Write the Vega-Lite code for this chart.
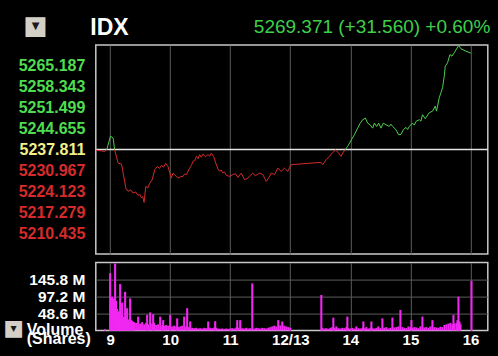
{
  "$schema": "https://vega.github.io/schema/vega-lite/v6.json",
  "background": "#000000",
  "padding": {"left": 1.8, "top": 11, "right": 8, "bottom": 11.5},
  "spacing": 6.6,
  "config": {
    "font": "Liberation Sans",
    "view": {"stroke": "#c8c8c8", "strokeWidth": 1.5},
    "axis": {"gridColor": "#5c5c5c", "gridWidth": 1, "domain": false, "ticks": false, "labelOverlap": false}
  },
  "datasets": {
    "price": [
      {"m": -14.3, "v": 5237.61, "seg": "a", "dir": "down"},
      {"m": -5.3, "v": 5237.19, "seg": "a", "dir": "down"},
      {"m": -3.3, "v": 5237.81, "seg": "a", "dir": "down"},
      {"m": -3.3, "v": 5237.81, "seg": "b", "dir": "up"},
      {"m": 0.4, "v": 5242.19, "seg": "b", "dir": "up"},
      {"m": 3.0, "v": 5241.54, "seg": "b", "dir": "up"},
      {"m": 4.5, "v": 5237.81, "seg": "b", "dir": "up"},
      {"m": 4.5, "v": 5237.81, "seg": "c", "dir": "down"},
      {"m": 8.0, "v": 5233.36, "seg": "c", "dir": "down"},
      {"m": 11.4, "v": 5233.03, "seg": "c", "dir": "down"},
      {"m": 15.7, "v": 5225.18, "seg": "c", "dir": "down"},
      {"m": 17.9, "v": 5224.10, "seg": "c", "dir": "down"},
      {"m": 20.5, "v": 5224.60, "seg": "c", "dir": "down"},
      {"m": 22.9, "v": 5223.55, "seg": "c", "dir": "down"},
      {"m": 25.4, "v": 5223.90, "seg": "c", "dir": "down"},
      {"m": 27.9, "v": 5222.79, "seg": "c", "dir": "down"},
      {"m": 29.6, "v": 5223.20, "seg": "c", "dir": "down"},
      {"m": 31.3, "v": 5221.91, "seg": "c", "dir": "down"},
      {"m": 32.6, "v": 5222.40, "seg": "c", "dir": "down"},
      {"m": 33.9, "v": 5220.50, "seg": "c", "dir": "down"},
      {"m": 35.6, "v": 5225.74, "seg": "c", "dir": "down"},
      {"m": 37.6, "v": 5225.20, "seg": "c", "dir": "down"},
      {"m": 39.6, "v": 5226.82, "seg": "c", "dir": "down"},
      {"m": 42.0, "v": 5227.90, "seg": "c", "dir": "down"},
      {"m": 44.6, "v": 5231.20, "seg": "c", "dir": "down"},
      {"m": 47.3, "v": 5232.28, "seg": "c", "dir": "down"},
      {"m": 49.3, "v": 5231.60, "seg": "c", "dir": "down"},
      {"m": 51.3, "v": 5232.61, "seg": "c", "dir": "down"},
      {"m": 53.4, "v": 5232.00, "seg": "c", "dir": "down"},
      {"m": 55.5, "v": 5233.26, "seg": "c", "dir": "down"},
      {"m": 57.8, "v": 5232.28, "seg": "c", "dir": "down"},
      {"m": 59.5, "v": 5230.30, "seg": "c", "dir": "down"},
      {"m": 61.2, "v": 5228.45, "seg": "c", "dir": "down"},
      {"m": 62.8, "v": 5230.10, "seg": "c", "dir": "down"},
      {"m": 64.5, "v": 5229.57, "seg": "c", "dir": "down"},
      {"m": 66.1, "v": 5229.00, "seg": "c", "dir": "down"},
      {"m": 67.8, "v": 5228.45, "seg": "c", "dir": "down"},
      {"m": 70.3, "v": 5228.90, "seg": "c", "dir": "down"},
      {"m": 72.8, "v": 5229.01, "seg": "c", "dir": "down"},
      {"m": 74.5, "v": 5229.80, "seg": "c", "dir": "down"},
      {"m": 76.2, "v": 5229.57, "seg": "c", "dir": "down"},
      {"m": 79.5, "v": 5231.72, "seg": "c", "dir": "down"},
      {"m": 81.2, "v": 5232.60, "seg": "c", "dir": "down"},
      {"m": 82.8, "v": 5233.92, "seg": "c", "dir": "down"},
      {"m": 84.5, "v": 5234.20, "seg": "c", "dir": "down"},
      {"m": 86.2, "v": 5235.55, "seg": "c", "dir": "down"},
      {"m": 87.8, "v": 5234.80, "seg": "c", "dir": "down"},
      {"m": 89.4, "v": 5236.11, "seg": "c", "dir": "down"},
      {"m": 91.0, "v": 5235.30, "seg": "c", "dir": "down"},
      {"m": 92.7, "v": 5236.31, "seg": "c", "dir": "down"},
      {"m": 95.2, "v": 5235.40, "seg": "c", "dir": "down"},
      {"m": 97.7, "v": 5236.11, "seg": "c", "dir": "down"},
      {"m": 99.4, "v": 5235.60, "seg": "c", "dir": "down"},
      {"m": 101.1, "v": 5236.63, "seg": "c", "dir": "down"},
      {"m": 103.4, "v": 5235.55, "seg": "c", "dir": "down"},
      {"m": 106.1, "v": 5232.84, "seg": "c", "dir": "down"},
      {"m": 107.8, "v": 5231.40, "seg": "c", "dir": "down"},
      {"m": 109.4, "v": 5230.65, "seg": "c", "dir": "down"},
      {"m": 111.0, "v": 5231.10, "seg": "c", "dir": "down"},
      {"m": 112.7, "v": 5230.09, "seg": "c", "dir": "down"},
      {"m": 114.4, "v": 5230.40, "seg": "c", "dir": "down"},
      {"m": 116.1, "v": 5229.34, "seg": "c", "dir": "down"},
      {"m": 119.4, "v": 5229.01, "seg": "c", "dir": "down"},
      {"m": 122.6, "v": 5229.57, "seg": "c", "dir": "down"},
      {"m": 125.1, "v": 5229.90, "seg": "c", "dir": "down"},
      {"m": 127.6, "v": 5228.68, "seg": "c", "dir": "down"},
      {"m": 131.0, "v": 5230.09, "seg": "c", "dir": "down"},
      {"m": 134.3, "v": 5227.93, "seg": "c", "dir": "down"},
      {"m": 137.6, "v": 5228.45, "seg": "c", "dir": "down"},
      {"m": 140.0, "v": 5229.30, "seg": "c", "dir": "down"},
      {"m": 142.6, "v": 5230.09, "seg": "c", "dir": "down"},
      {"m": 145.1, "v": 5229.20, "seg": "c", "dir": "down"},
      {"m": 147.6, "v": 5229.76, "seg": "c", "dir": "down"},
      {"m": 149.6, "v": 5230.09, "seg": "c", "dir": "down"},
      {"m": 152.6, "v": 5229.57, "seg": "c", "dir": "down"},
      {"m": 156.0, "v": 5227.37, "seg": "c", "dir": "down"},
      {"m": 158.5, "v": 5228.60, "seg": "c", "dir": "down"},
      {"m": 161.0, "v": 5230.09, "seg": "c", "dir": "down"},
      {"m": 164.3, "v": 5229.57, "seg": "c", "dir": "down"},
      {"m": 167.5, "v": 5231.72, "seg": "c", "dir": "down"},
      {"m": 170.9, "v": 5230.65, "seg": "c", "dir": "down"},
      {"m": 174.2, "v": 5231.72, "seg": "c", "dir": "down"},
      {"m": 177.5, "v": 5230.65, "seg": "c", "dir": "down"},
      {"m": 180.9, "v": 5232.84, "seg": "c", "dir": "down"},
      {"m": 210.8, "v": 5233.59, "seg": "c", "dir": "down"},
      {"m": 212.4, "v": 5232.84, "seg": "c", "dir": "down"},
      {"m": 215.8, "v": 5234.47, "seg": "c", "dir": "down"},
      {"m": 219.1, "v": 5235.55, "seg": "c", "dir": "down"},
      {"m": 221.8, "v": 5236.63, "seg": "c", "dir": "down"},
      {"m": 225.1, "v": 5237.68, "seg": "c", "dir": "down"},
      {"m": 228.4, "v": 5236.63, "seg": "c", "dir": "down"},
      {"m": 230.7, "v": 5235.55, "seg": "c", "dir": "down"},
      {"m": 233.0, "v": 5236.96, "seg": "c", "dir": "down"},
      {"m": 235.0, "v": 5237.81, "seg": "c", "dir": "down"},
      {"m": 235.0, "v": 5237.81, "seg": "d", "dir": "up"},
      {"m": 237.3, "v": 5238.82, "seg": "d", "dir": "up"},
      {"m": 240.7, "v": 5240.79, "seg": "d", "dir": "up"},
      {"m": 244.0, "v": 5242.65, "seg": "d", "dir": "up"},
      {"m": 247.3, "v": 5244.81, "seg": "d", "dir": "up"},
      {"m": 249.7, "v": 5246.35, "seg": "d", "dir": "up"},
      {"m": 252.3, "v": 5247.56, "seg": "d", "dir": "up"},
      {"m": 255.0, "v": 5248.08, "seg": "d", "dir": "up"},
      {"m": 257.3, "v": 5246.45, "seg": "d", "dir": "up"},
      {"m": 259.7, "v": 5245.92, "seg": "d", "dir": "up"},
      {"m": 262.3, "v": 5244.81, "seg": "d", "dir": "up"},
      {"m": 264.0, "v": 5246.45, "seg": "d", "dir": "up"},
      {"m": 266.3, "v": 5245.37, "seg": "d", "dir": "up"},
      {"m": 268.3, "v": 5246.45, "seg": "d", "dir": "up"},
      {"m": 270.6, "v": 5244.81, "seg": "d", "dir": "up"},
      {"m": 272.9, "v": 5246.45, "seg": "d", "dir": "up"},
      {"m": 275.6, "v": 5245.92, "seg": "d", "dir": "up"},
      {"m": 278.9, "v": 5245.37, "seg": "d", "dir": "up"},
      {"m": 280.5, "v": 5246.10, "seg": "d", "dir": "up"},
      {"m": 282.2, "v": 5245.37, "seg": "d", "dir": "up"},
      {"m": 285.6, "v": 5244.29, "seg": "d", "dir": "up"},
      {"m": 288.2, "v": 5242.65, "seg": "d", "dir": "up"},
      {"m": 290.6, "v": 5242.75, "seg": "d", "dir": "up"},
      {"m": 292.9, "v": 5244.29, "seg": "d", "dir": "up"},
      {"m": 295.6, "v": 5245.04, "seg": "d", "dir": "up"},
      {"m": 297.2, "v": 5244.40, "seg": "d", "dir": "up"},
      {"m": 298.9, "v": 5245.37, "seg": "d", "dir": "up"},
      {"m": 302.2, "v": 5246.45, "seg": "d", "dir": "up"},
      {"m": 303.9, "v": 5245.80, "seg": "d", "dir": "up"},
      {"m": 305.5, "v": 5247.00, "seg": "d", "dir": "up"},
      {"m": 308.8, "v": 5247.56, "seg": "d", "dir": "up"},
      {"m": 310.5, "v": 5247.10, "seg": "d", "dir": "up"},
      {"m": 312.1, "v": 5249.19, "seg": "d", "dir": "up"},
      {"m": 314.8, "v": 5247.89, "seg": "d", "dir": "up"},
      {"m": 318.8, "v": 5249.85, "seg": "d", "dir": "up"},
      {"m": 322.1, "v": 5250.37, "seg": "d", "dir": "up"},
      {"m": 324.8, "v": 5252.01, "seg": "d", "dir": "up"},
      {"m": 326.1, "v": 5250.37, "seg": "d", "dir": "up"},
      {"m": 328.8, "v": 5254.76, "seg": "d", "dir": "up"},
      {"m": 330.5, "v": 5256.39, "seg": "d", "dir": "up"},
      {"m": 332.1, "v": 5258.03, "seg": "d", "dir": "up"},
      {"m": 333.8, "v": 5261.82, "seg": "d", "dir": "up"},
      {"m": 334.8, "v": 5265.09, "seg": "d", "dir": "up"},
      {"m": 337.1, "v": 5266.21, "seg": "d", "dir": "up"},
      {"m": 339.5, "v": 5268.92, "seg": "d", "dir": "up"},
      {"m": 341.5, "v": 5268.37, "seg": "d", "dir": "up"},
      {"m": 343.8, "v": 5269.48, "seg": "d", "dir": "up"},
      {"m": 348.1, "v": 5271.87, "seg": "d", "dir": "up"},
      {"m": 350.5, "v": 5270.79, "seg": "d", "dir": "up"},
      {"m": 355.5, "v": 5270.00, "seg": "d", "dir": "up"},
      {"m": 360.4, "v": 5269.37, "seg": "d", "dir": "up"}
    ],
    "volume": [
      {"m": -5, "vol": 4}, {"m": 0, "vol": 164}, {"m": 1, "vol": 95}, {"m": 2, "vol": 97}, {"m": 3, "vol": 90},
      {"m": 4, "vol": 92}, {"m": 5, "vol": 192}, {"m": 6, "vol": 85}, {"m": 7, "vol": 62}, {"m": 8, "vol": 55},
      {"m": 9, "vol": 50}, {"m": 10, "vol": 133}, {"m": 11, "vol": 45}, {"m": 12, "vol": 80}, {"m": 13, "vol": 40},
      {"m": 14, "vol": 38}, {"m": 15, "vol": 111}, {"m": 16, "vol": 35}, {"m": 17, "vol": 64}, {"m": 18, "vol": 32},
      {"m": 19, "vol": 28}, {"m": 20, "vol": 92}, {"m": 21, "vol": 30}, {"m": 22, "vol": 28}, {"m": 23, "vol": 25},
      {"m": 24, "vol": 24}, {"m": 26, "vol": 22}, {"m": 28, "vol": 40}, {"m": 30, "vol": 20}, {"m": 32, "vol": 24},
      {"m": 34, "vol": 18}, {"m": 36, "vol": 22}, {"m": 37, "vol": 45}, {"m": 38, "vol": 18}, {"m": 40, "vol": 52},
      {"m": 42, "vol": 20}, {"m": 43, "vol": 47}, {"m": 44, "vol": 22}, {"m": 46, "vol": 16}, {"m": 48, "vol": 18},
      {"m": 50, "vol": 40}, {"m": 52, "vol": 15}, {"m": 53, "vol": 30}, {"m": 54, "vol": 14}, {"m": 56, "vol": 16},
      {"m": 58, "vol": 14}, {"m": 60, "vol": 45}, {"m": 62, "vol": 12}, {"m": 64, "vol": 14}, {"m": 66, "vol": 12},
      {"m": 67, "vol": 35}, {"m": 68, "vol": 10}, {"m": 70, "vol": 12}, {"m": 72, "vol": 14}, {"m": 74, "vol": 40},
      {"m": 76, "vol": 12}, {"m": 77, "vol": 64}, {"m": 78, "vol": 10}, {"m": 80, "vol": 26}, {"m": 82, "vol": 8},
      {"m": 84, "vol": 7}, {"m": 86, "vol": 8}, {"m": 88, "vol": 6}, {"m": 90, "vol": 7}, {"m": 92, "vol": 6},
      {"m": 94, "vol": 8}, {"m": 96, "vol": 7}, {"m": 98, "vol": 26}, {"m": 100, "vol": 8}, {"m": 102, "vol": 7},
      {"m": 104, "vol": 9}, {"m": 105, "vol": 27}, {"m": 106, "vol": 8}, {"m": 108, "vol": 6}, {"m": 110, "vol": 5},
      {"m": 112, "vol": 6}, {"m": 114, "vol": 5}, {"m": 116, "vol": 6}, {"m": 118, "vol": 5}, {"m": 120, "vol": 6},
      {"m": 122, "vol": 7}, {"m": 124, "vol": 6}, {"m": 126, "vol": 9}, {"m": 127, "vol": 30}, {"m": 128, "vol": 8},
      {"m": 130, "vol": 30}, {"m": 132, "vol": 7}, {"m": 134, "vol": 6}, {"m": 136, "vol": 8}, {"m": 138, "vol": 6},
      {"m": 140, "vol": 7}, {"m": 142, "vol": 135}, {"m": 144, "vol": 6}, {"m": 146, "vol": 8}, {"m": 148, "vol": 7},
      {"m": 150, "vol": 6}, {"m": 152, "vol": 8}, {"m": 154, "vol": 7}, {"m": 156, "vol": 6}, {"m": 158, "vol": 8},
      {"m": 160, "vol": 10}, {"m": 162, "vol": 12}, {"m": 164, "vol": 14}, {"m": 166, "vol": 12}, {"m": 168, "vol": 30},
      {"m": 170, "vol": 15}, {"m": 172, "vol": 26}, {"m": 174, "vol": 14}, {"m": 176, "vol": 12}, {"m": 178, "vol": 10},
      {"m": 180, "vol": 8},
      {"m": 211, "vol": 102}, {"m": 212, "vol": 8}, {"m": 214, "vol": 6}, {"m": 216, "vol": 7}, {"m": 218, "vol": 5},
      {"m": 220, "vol": 8}, {"m": 222, "vol": 10}, {"m": 223, "vol": 37}, {"m": 224, "vol": 8}, {"m": 226, "vol": 12},
      {"m": 228, "vol": 7}, {"m": 230, "vol": 6}, {"m": 232, "vol": 8}, {"m": 234, "vol": 7}, {"m": 236, "vol": 10},
      {"m": 237, "vol": 40}, {"m": 238, "vol": 7}, {"m": 240, "vol": 6}, {"m": 242, "vol": 8}, {"m": 244, "vol": 6},
      {"m": 246, "vol": 12}, {"m": 248, "vol": 7}, {"m": 250, "vol": 6}, {"m": 252, "vol": 8}, {"m": 253, "vol": 26},
      {"m": 254, "vol": 7}, {"m": 256, "vol": 10}, {"m": 258, "vol": 6}, {"m": 260, "vol": 8}, {"m": 261, "vol": 26},
      {"m": 262, "vol": 7}, {"m": 264, "vol": 6}, {"m": 266, "vol": 8}, {"m": 268, "vol": 12}, {"m": 270, "vol": 7},
      {"m": 272, "vol": 35}, {"m": 274, "vol": 8}, {"m": 276, "vol": 10}, {"m": 278, "vol": 6}, {"m": 280, "vol": 8},
      {"m": 282, "vol": 37}, {"m": 284, "vol": 9}, {"m": 286, "vol": 10}, {"m": 288, "vol": 12}, {"m": 290, "vol": 59},
      {"m": 292, "vol": 10}, {"m": 294, "vol": 8}, {"m": 296, "vol": 7}, {"m": 298, "vol": 12}, {"m": 300, "vol": 9},
      {"m": 301, "vol": 30}, {"m": 302, "vol": 8}, {"m": 304, "vol": 10}, {"m": 306, "vol": 9}, {"m": 308, "vol": 7},
      {"m": 310, "vol": 12}, {"m": 312, "vol": 40}, {"m": 314, "vol": 9}, {"m": 316, "vol": 10}, {"m": 318, "vol": 8},
      {"m": 320, "vol": 12}, {"m": 322, "vol": 30}, {"m": 324, "vol": 10}, {"m": 326, "vol": 9}, {"m": 328, "vol": 8},
      {"m": 330, "vol": 11}, {"m": 332, "vol": 10}, {"m": 334, "vol": 16}, {"m": 336, "vol": 18}, {"m": 338, "vol": 20},
      {"m": 340, "vol": 22}, {"m": 342, "vol": 18}, {"m": 343, "vol": 45}, {"m": 344, "vol": 20}, {"m": 346, "vol": 22},
      {"m": 347, "vol": 30}, {"m": 348, "vol": 97}, {"m": 349, "vol": 26}, {"m": 350, "vol": 18}, {"m": 361, "vol": 142}
    ]
  },
  "vconcat": [
    {
      "width": 392,
      "height": 209,
      "title": {
        "text": "■", "subtitle": ["", "▼"], "orient": "none", "anchor": "start", "align": "center",
        "baseline": "top", "dx": -60.2, "dy": -32.5, "font": "DejaVu Sans", "fontSize": 26, "color": "#d4d0c8",
        "subtitleFont": "DejaVu Sans", "subtitleFontSize": 10, "subtitleColor": "#1a1a1a", "subtitlePadding": -8,
        "subtitleLineHeight": 8.5
      },
      "layer": [
        {
          "data": {"values": [{}]},
          "mark": {"type": "rule", "color": "#e4e4e4", "strokeWidth": 1.5},
          "encoding": {"y": {"datum": 5237.811}}
        },
        {
          "data": {"name": "price"},
          "mark": {"type": "line", "strokeWidth": 1},
          "encoding": {
            "x": {
              "field": "m", "type": "quantitative",
              "scale": {"domain": [-14.3, 377.3], "nice": false, "zero": false},
              "axis": {
                "orient": "top", "values": [0, 60, 120, 180, 240, 300, 360], "labels": false, "tickCount": 20,
                "title": "5269.371 (+31.560) +0.60%", "titleColor": "#3fcf4a", "titleFontSize": 19,
                "titleFontWeight": "normal", "titleAlign": "right", "titleX": 394, "titleY": -12.8,
                "titleBaseline": "alphabetic"
              }
            },
            "y": {
              "field": "v", "type": "quantitative",
              "scale": {"domain": [5203.591, 5272.031], "nice": false, "zero": false},
              "axis": {
                "values": [5210.435, 5217.279, 5224.123, 5230.967, 5237.811, 5244.655, 5251.499, 5258.343, 5265.187],
                "tickCount": 20,
                "format": ".3f", "labelOverlap": false, "labelFlush": false,
                "labelColor": {"expr": "datum.value > 5238 ? '#4fdc4f' : datum.value > 5237 ? '#f2f08a' : '#d62b2b'"},
                "labelFontSize": 16, "labelFontWeight": "bold", "labelPadding": 11,
                "title": "IDX", "titleAngle": 0, "titleX": -6, "titleY": -10.8, "titleAlign": "left",
                "titleBaseline": "alphabetic", "titleFontSize": 23, "titleFontWeight": "bold", "titleColor": "#ffffff"
              }
            },
            "color": {
              "field": "dir", "type": "nominal",
              "scale": {"domain": ["up", "down"], "range": ["#4ccf4c", "#d42a2a"]},
              "legend": null
            },
            "detail": {"field": "seg"}
          }
        }
      ]
    },
    {
      "width": 392,
      "height": 68,
      "title": {
        "text": "■", "subtitle": ["", "▼"], "orient": "none", "anchor": "start", "align": "center",
        "baseline": "top", "dx": -82.2, "dy": 55.9, "font": "DejaVu Sans", "fontSize": 22, "color": "#d4d0c8",
        "subtitleFont": "DejaVu Sans", "subtitleFontSize": 8, "subtitleColor": "#1a1a1a", "subtitlePadding": -6.5,
        "subtitleLineHeight": 7
      },
      "data": {"name": "volume"},
      "mark": {"type": "rule", "color": "#f028f0", "strokeWidth": 2.1},
      "encoding": {
        "x": {
          "field": "m", "type": "quantitative",
          "scale": {"domain": [-14.3, 377.3], "nice": false, "zero": false},
          "axis": {
            "values": [0, 60, 120, 180, 240, 300, 360], "labelOverlap": false, "labelFlush": false, "tickCount": 20,
            "labelExpr": "datum.value == 180 ? '12/13' : datum.value < 180 ? '' + (9 + datum.value / 60) : '' + (10 + datum.value / 60)",
            "labelColor": "#ffffff", "labelFontSize": 15, "labelFontWeight": "bold", "labelPadding": 2,
            "title": null
          }
        },
        "y": {
          "field": "vol", "type": "quantitative",
          "scale": {"domain": [0, 194.4], "nice": false},
          "axis": {
            "values": [48.6, 97.2, 145.8], "labelOverlap": false, "labelFlush": false, "tickCount": 20,
            "labelExpr": "format(datum.value, '.1f') + ' M'",
            "labelColor": "#ffffff", "labelFontSize": 15.5, "labelFontWeight": "bold", "labelPadding": 11,
            "title": ["Volume", "(Shares)"], "titleAngle": 0, "titleX": -69.5, "titleY": 72.4,
            "titleAlign": "left", "titleBaseline": "alphabetic", "titleLineHeight": 9,
            "titleFontSize": 16, "titleFontWeight": "bold", "titleColor": "#ffffff"
          }
        },
        "y2": {"datum": 0}
      }
    }
  ]
}
